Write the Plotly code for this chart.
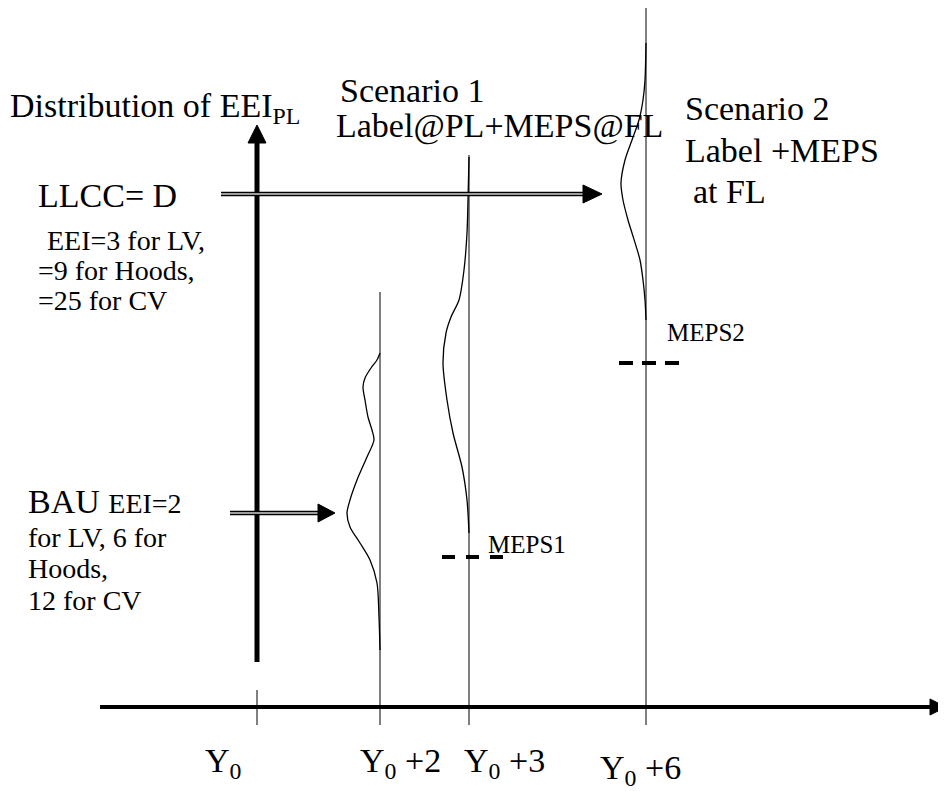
import plotly.graph_objects as go

# ---------------- data (schematic positions) ----------------
tick_labels = ["Y<sub>0</sub>", "Y<sub>0</sub> +2", "Y<sub>0</sub> +3", "Y<sub>0</sub> +6"]
tick_pos = [257, 380, 469, 646]           # schematic x position of each year
tick_label_left = [205, 360, 464, 600]
tick_label_base = [772, 772, 772, 779]

# distribution profiles: vertical level and leftward bulge from the year line
bau_y = [353, 360, 368, 378, 387, 400, 417, 430, 440, 457, 480, 500, 513, 527, 543, 560, 583, 617, 650]
bau_w = [0, 3, 9, 15, 17, 15, 12, 8, 6, 13, 23, 30, 33, 30, 20, 10, 3, 1, 0]

s1_y = [157, 200, 233, 270, 300, 317, 333, 363, 400, 433, 467, 500, 533]
s1_w = [0, 1, 2, 5, 10, 18, 23, 26, 22, 16, 7, 2, 0]

s2_y = [43, 80, 100, 120, 140, 160, 183, 200, 220, 233, 260, 280, 300, 320]
s2_w = [0, 1, 3, 7, 14, 21, 25, 23, 18, 14, 6, 3, 1, 0]

meps_levels = [557, 363]                  # MEPS1, MEPS2
meps_labels = ["MEPS1", "MEPS2"]

W, H = 946, 791
PAGE = 8                                  # browser default body margin
FONT = "Liberation Serif"
BIG, SMALL, MEPS_FS = 34, 28, 25

fig = go.Figure()
shapes = []
annotations = []


def line(x0, y0, x1, y1, width=1, color="black", dash="solid"):
    shapes.append(dict(type="line", x0=x0, y0=y0, x1=x1, y1=y1, xref="x", yref="y",
                       line=dict(color=color, width=width, dash=dash), layer="above"))


def tri(path):
    shapes.append(dict(type="path", path=path, xref="x", yref="y",
                       fillcolor="black", line=dict(color="black", width=1), layer="above"))


def text(x, base, s, size):
    annotations.append(dict(x=x, y=base - 0.891 * size, xref="x", yref="y", text=s,
                            showarrow=False, xanchor="left", yanchor="top",
                            borderpad=0, borderwidth=0,
                            font=dict(family=FONT, size=size, color="black")))


# thin vertical year lines
line(tick_pos[0], 690, tick_pos[0], 725)
line(tick_pos[1], 292, tick_pos[1], 725)
line(tick_pos[2], 155, tick_pos[2], 725)
line(tick_pos[3], 8, tick_pos[3], 725)

# distribution curves
for ys, ws, xl in [(bau_y, bau_w, tick_pos[1]), (s1_y, s1_w, tick_pos[2]), (s2_y, s2_w, tick_pos[3])]:
    fig.add_trace(go.Scatter(x=[xl - w for w in ws], y=ys, mode="lines",
                             line=dict(color="black", width=1.3, shape="spline", smoothing=0.8),
                             hoverinfo="skip", showlegend=False))

# MEPS dashed bars
fig.add_trace(go.Scatter(x=[442, 503], y=[meps_levels[0]] * 2, mode="lines",
                         line=dict(color="black", width=4, dash="13px,11px"),
                         hoverinfo="skip", showlegend=False))
fig.add_trace(go.Scatter(x=[619, 679], y=[meps_levels[1]] * 2, mode="lines",
                         line=dict(color="black", width=4, dash="14px,9px"),
                         hoverinfo="skip", showlegend=False))

# main axes (thick)
line(100, 707, 930, 707, width=4)
tri("M 930 699 L 946 707 L 930 715 Z")
line(257, 143, 257, 662, width=5)
tri("M 248 143 L 257 125 L 266 143 Z")

# double-line arrows
for (x0, x1, y, tip) in [(221, 583, 194, 602), (230, 318, 513, 335)]:
    line(x0, y, x1, y, width=4.5, color="black")
    line(x0, y, x1 + 1, y, width=1.5, color="#d0d0d0")
    tri(f"M {x1} {y - 9} L {tip} {y} L {x1} {y + 9} Z")

# texts
text(10, 117, "Distribution of EEI<sub>PL</sub>", BIG)
text(340, 102, "Scenario 1", BIG)
text(336, 137, "Label@PL+MEPS@FL", BIG)
text(685, 120, "Scenario 2", BIG)
text(685, 162, "Label +MEPS", BIG)
text(693, 203, "at FL", BIG)
text(38, 207, "LLCC= D", BIG)
text(47, 250, "EEI=3 for LV,", SMALL)
text(38, 280, "=9 for Hoods,", SMALL)
text(38, 310, "=25 for CV", SMALL)
text(28, 513, f"BAU <span style='font-size:{SMALL}px'>EEI=2</span>", BIG)
text(28, 547, "for LV, 6 for", SMALL)
text(28, 578, "Hoods,", SMALL)
text(28, 610, "12 for CV", SMALL)
text(488, 553, meps_labels[0], MEPS_FS)
text(667, 341, meps_labels[1], MEPS_FS)
for lab, xl, b in zip(tick_labels, tick_label_left, tick_label_base):
    text(xl, b, lab, BIG)

fig.update_layout(
    width=W, height=H, autosize=False,
    margin=dict(l=0, r=0, t=0, b=0),
    paper_bgcolor="white", plot_bgcolor="white",
    xaxis=dict(range=[PAGE, W + PAGE], visible=False, fixedrange=True),
    yaxis=dict(range=[H + PAGE, PAGE], visible=False, fixedrange=True),
    shapes=shapes, annotations=annotations, showlegend=False,
)
fig.write_html("out.html")
